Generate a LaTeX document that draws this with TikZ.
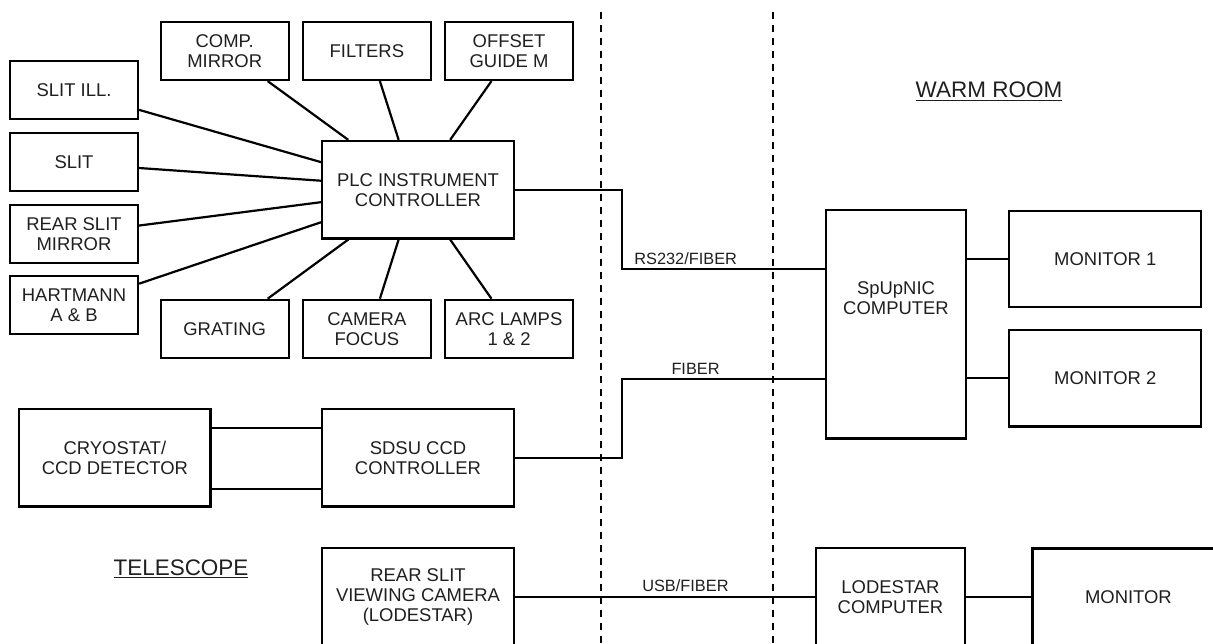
\documentclass[tikz,border=0pt]{standalone}
\usepackage{fontspec}
\setmainfont{Liberation Sans}
\usepackage{tikz}
\usetikzlibrary{calc,positioning}

\begin{document}
\begin{tikzpicture}[x=0.02cm, y=-0.02cm, align=center,
    unit_box/.style={draw, line width=1.25pt, inner sep=1pt, text=black!88, font=\fontsize{10.5}{11.4}\selectfont},
    small_box/.style={unit_box, minimum width=2.56cm, minimum height=1.16cm},
    wide_box/.style={unit_box, minimum width=3.83cm, minimum height=1.95cm},
    monitor_box/.style={unit_box, minimum width=3.84cm, minimum height=1.93cm},
    link/.style={line width=1.25pt},
    link_label/.style={anchor=base, yshift=2.7pt, inner sep=0pt, text=black!88, font=\fontsize{9.3}{10}\selectfont},
    room_label/.style={anchor=base, inner sep=0pt, text=black!88, font=\fontsize{12.8}{14}\selectfont},
    room_wall/.style={line width=1.3pt, dash pattern=on 4.2pt off 3.2pt}]
    \useasboundingbox (0,0) rectangle (1213,643);
    \clip (0,0) rectangle (1213,643);

    % telescope side
    \node [small_box] (slit_ill) at (74,90.3) {SLIT ILL.};
    \node [small_box, below=0.23cm of slit_ill] (slit) {SLIT};
    \node [small_box, below=0.23cm of slit] (rear_slit_mirror) {REAR SLIT\\MIRROR};
    \node [small_box, below=0.23cm of rear_slit_mirror] (hartmann) {HARTMANN\\A \& B};

    \node [small_box] (comp_mirror) at (224.7,51) {COMP.\\MIRROR};
    \node [small_box, right=0.24cm of comp_mirror] (filters) {FILTERS};
    \node [small_box, right=0.24cm of filters] (offset_guide) {OFFSET\\GUIDE M};

    \node [small_box] (grating) at (224.7,328.8) {GRATING};
    \node [small_box, right=0.24cm of grating] (camera_focus) {CAMERA\\FOCUS};
    \node [small_box, right=0.24cm of camera_focus] (arc_lamps) {ARC LAMPS\\1 \& 2};

    \node [wide_box] (plc) at (418,189.7) {PLC INSTRUMENT\\CONTROLLER};
    \node [wide_box] (sdsu) at (418,457.7) {SDSU CCD\\CONTROLLER};
    \node [wide_box, left=2.19cm of sdsu] (cryostat) {CRYOSTAT/\\CCD DETECTOR};
    \node [wide_box] (rear_camera) at (418,596.7) {REAR SLIT\\VIEWING CAMERA\\(LODESTAR)};

    \node [room_label] (telescope) at (181,575) {\underline{TELESCOPE}};

    % warm room side
    \node [unit_box, minimum width=2.81cm, minimum height=4.57cm] (spupnic) at (896,324.2)
        {\raisebox{10.5pt}[0pt][0pt]{\begin{tabular}{@{}c@{}}SpUpNIC\\COMPUTER\end{tabular}}};
    \node [monitor_box] (monitor_1) at (1105.3,259) {MONITOR 1};
    \node [monitor_box, below=0.41cm of monitor_1] (monitor_2) {MONITOR 2};
    \node [unit_box, minimum width=2.97cm, minimum height=1.94cm] (lodestar) at (890.5,596.7) {LODESTAR\\COMPUTER};
    \node [monitor_box, right=1.31cm of lodestar] (monitor) {MONITOR};

    \node [room_label] (warm_room) at (989,97.3) {\underline{WARM ROOM}};

    % walls
    \coordinate (wall_a_top) at (600.7,11.7);
    \coordinate (wall_a_bottom) at (600.7,643);
    \coordinate (wall_b_top) at (773.2,11.7);
    \coordinate (wall_b_bottom) at (773.2,643);
    \draw [room_wall] (wall_a_top) -- (wall_a_bottom);
    \draw [room_wall] (wall_b_top) -- (wall_b_bottom);

    % plc links
    \draw [link] ($(comp_mirror.south west)!0.83!(comp_mirror.south east)$) -- ($(plc.north west)!0.14!(plc.north east)$);
    \draw [link] ($(filters.south west)!0.6!(filters.south east)$) -- ($(plc.north west)!0.4!(plc.north east)$);
    \draw [link] ($(offset_guide.south west)!0.365!(offset_guide.south east)$) -- ($(plc.north west)!0.666!(plc.north east)$);
    \draw [link] ($(grating.north west)!0.83!(grating.north east)$) -- ($(plc.south west)!0.14!(plc.south east)$);
    \draw [link] ($(camera_focus.north west)!0.6!(camera_focus.north east)$) -- ($(plc.south west)!0.4!(plc.south east)$);
    \draw [link] ($(arc_lamps.north west)!0.365!(arc_lamps.north east)$) -- ($(plc.south west)!0.666!(plc.south east)$);
    \draw [link] ($(slit_ill.north east)!0.825!(slit_ill.south east)$) -- ($(plc.north west)!0.224!(plc.south west)$);
    \draw [link] ($(slit.north east)!0.6!(slit.south east)$) -- ($(plc.north west)!0.41!(plc.south west)$);
    \draw [link] ($(rear_slit_mirror.north east)!0.365!(rear_slit_mirror.south east)$) -- ($(plc.north west)!0.625!(plc.south west)$);
    \draw [link] ($(hartmann.north east)!0.14!(hartmann.south east)$) -- ($(plc.north west)!0.826!(plc.south west)$);

    % detector links
    \draw [link] ($(cryostat.north east)!0.2!(cryostat.south east)$) -- ($(sdsu.north west)!0.2!(sdsu.south west)$);
    \draw [link] ($(cryostat.north east)!0.81!(cryostat.south east)$) -- ($(sdsu.north west)!0.81!(sdsu.south west)$);

    % through the walls
    \coordinate (bend) at (622.3,0);
    \coordinate (rs232_in) at ($(spupnic.north west)!0.26!(spupnic.south west)$);
    \coordinate (fiber_in) at ($(spupnic.north west)!0.739!(spupnic.south west)$);
    \draw [link] (plc.east) -| (bend |- rs232_in) -- node [link_label, pos=0.313] {RS232/FIBER} (rs232_in);
    \draw [link] (sdsu.east) -| (bend |- fiber_in) -- node [link_label, pos=0.362] {FIBER} (fiber_in);
    \draw [link] (rear_camera) -- node [link_label, pos=0.568] {USB/FIBER} (lodestar);

    \draw [link] (spupnic.east |- monitor_1) -- (monitor_1.west);
    \draw [link] (spupnic.east |- monitor_2) -- (monitor_2.west);
    \draw [link] (lodestar) -- (monitor);
\end{tikzpicture}
\end{document}
